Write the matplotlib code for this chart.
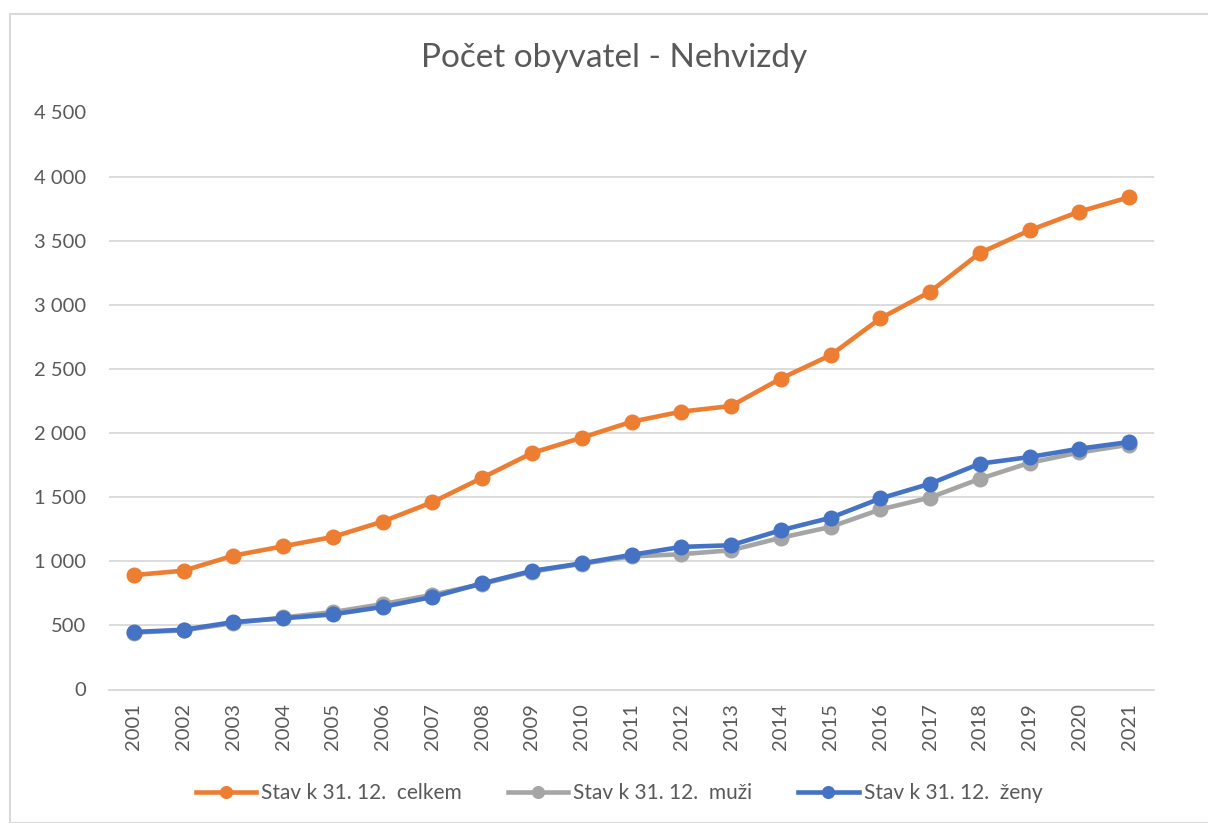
import matplotlib
matplotlib.use("Agg")
import matplotlib.pyplot as plt
from matplotlib.ticker import FuncFormatter, MultipleLocator
from matplotlib.patches import Rectangle

years = [str(y) for y in range(2001, 2022)]
celkem = [892, 927, 1044, 1117, 1190, 1310, 1461, 1651, 1844, 1964, 2088,
          2167, 2211, 2425, 2607, 2894, 3102, 3404, 3581, 3727, 3839]
zeny = [448, 466, 526, 555, 586, 644, 722, 828, 925, 984, 1050,
        1112, 1125, 1242, 1339, 1490, 1605, 1761, 1813, 1878, 1930]
muzi = [444, 461, 518, 562, 604, 666, 739, 823, 919, 980, 1038,
        1055, 1086, 1183, 1268, 1404, 1497, 1643, 1768, 1849, 1909]
labels = ["Stav k 31. 12.  celkem", "Stav k 31. 12.  muži", "Stav k 31. 12.  ženy"]
title = "Počet obyvatel - Nehvizdy"

plt.rcParams['font.family'] = ['Lato', 'DejaVu Sans']
txt = '#595959'

fig = plt.figure(figsize=(12.08, 8.23), dpi=100)
ax = fig.add_axes([109/1208, 1-689.5/823, (1154-109)/1208, (689.5-112.5)/823])

x = list(range(len(years)))
ax.plot(x, celkem, color='#ED7D31', lw=3.3, marker='o', ms=10.5, label=labels[0], zorder=3)
ax.plot(x, muzi, color='#A5A5A5', lw=3.3, marker='o', ms=10.5, label=labels[1], zorder=4)
ax.plot(x, zeny, color='#4472C4', lw=3.3, marker='o', ms=10.5, label=labels[2], zorder=5)

ax.set_xlim(-0.5, len(years) - 0.5)
ax.set_ylim(0, 4500)
ax.yaxis.set_major_locator(MultipleLocator(500))
ax.yaxis.set_major_formatter(FuncFormatter(lambda v, p: f"{int(v):,}".replace(",", " ")))
ax.set_xticks(x)
ax.set_xticklabels(years, rotation=90)
ax.grid(axis='y', color='#D9D9D9', lw=1.3, zorder=0)
ax.set_axisbelow(True)
for s in ['top', 'right', 'left']:
    ax.spines[s].set_visible(False)
ax.spines['bottom'].set_color('#D9D9D9')
ax.spines['bottom'].set_linewidth(1.3)
ax.tick_params(axis='y', length=0, pad=16.5, labelsize=14.5, labelcolor=txt)
ax.tick_params(axis='x', length=0, pad=10, labelsize=14.5, labelcolor=txt)

fig.text(614/1208, 1-58/823, title, ha='center', va='center', fontsize=24, color=txt)

fig.legend(loc='center', bbox_to_anchor=(619/1208, 1-793/823), ncol=3, frameon=False,
           fontsize=15, labelcolor=txt, handlelength=2.9, handletextpad=0.25,
           columnspacing=2.2, markerscale=0.8)

fig.patches.append(Rectangle((10/1208, 0), 1.2, 1-14/823, transform=fig.transFigure,
                             fill=False, edgecolor='#D9D9D9', lw=1.5))

fig.savefig("out.png", dpi=100)
